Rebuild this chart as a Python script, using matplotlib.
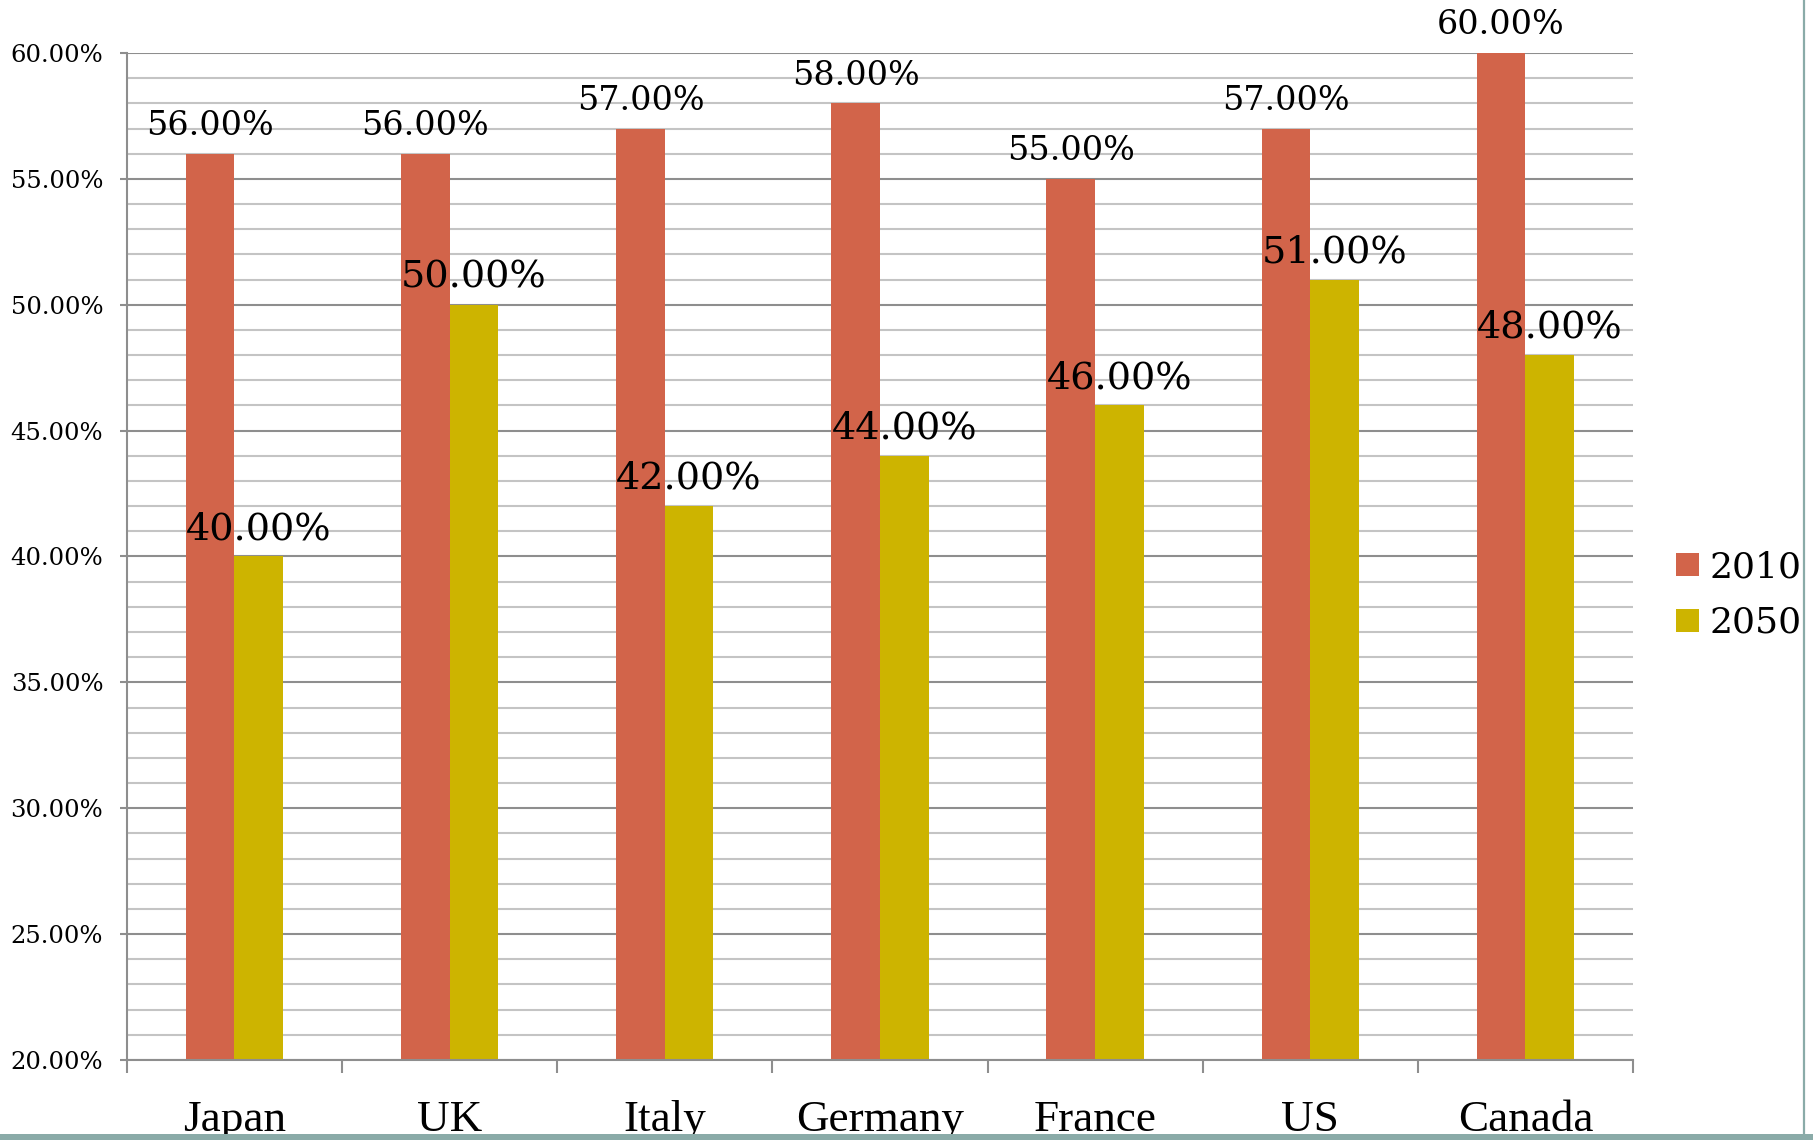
import matplotlib
matplotlib.use("Agg")
import matplotlib.pyplot as plt
from matplotlib.patches import Rectangle
from matplotlib.lines import Line2D
from matplotlib.ticker import MultipleLocator, FuncFormatter
import numpy as np

categories = ["Japan", "UK", "Italy", "Germany", "France", "US", "Canada"]
values_2010 = [56, 56, 57, 58, 55, 57, 60]
values_2050 = [40, 50, 42, 44, 46, 51, 48]
series_names = ["2010", "2050"]

RED = "#D2644A"
YELLOW = "#CDB400"
MAJOR_GRID = "#8E8E8E"
MINOR_GRID = "#C4C4C4"
TEAL = "#8AABA8"
NUM_FONT = "DejaVu Serif"
CAT_FONT = "Liberation Serif"

fig = plt.figure(figsize=(18.13, 11.40), dpi=100)
ax = fig.add_axes([0.0700, 0.0702, 0.8307, 0.8833])

x = np.arange(len(categories))
w = 0.226
b1 = ax.bar(x - w / 2, np.array(values_2010) - 20, w, bottom=20, color=RED,
            zorder=3, label=series_names[0])
b2 = ax.bar(x + w / 2, np.array(values_2050) - 20, w, bottom=20, color=YELLOW,
            zorder=3, label=series_names[1])

ax.set_xlim(-0.5, len(categories) - 0.5)
ax.set_ylim(20, 60)

# y axis
ax.yaxis.set_major_locator(MultipleLocator(5))
ax.yaxis.set_minor_locator(MultipleLocator(1))
ax.yaxis.set_major_formatter(FuncFormatter(lambda v, p: f"{v:.2f}%"))
ax.grid(which="major", axis="y", color=MAJOR_GRID, linewidth=1.5, zorder=1)
ax.grid(which="minor", axis="y", color=MINOR_GRID, linewidth=1.5, zorder=1)
ax.tick_params(axis="y", which="major", length=5, width=1.5, color=MAJOR_GRID,
               pad=12, labelsize=17.5)
ax.tick_params(axis="y", which="minor", length=0)
for lab in ax.get_yticklabels():
    lab.set_fontfamily(NUM_FONT)

# x axis: labels at centers, tick marks at boundaries
ax.set_xticks(x)
ax.set_xticklabels(categories, fontfamily=CAT_FONT, fontsize=32.5)
ax.set_xticks(np.arange(-0.5, len(categories)), minor=True)
ax.tick_params(axis="x", which="major", length=0, pad=29)
ax.tick_params(axis="x", which="minor", length=9, width=1.5, color=MAJOR_GRID)

for s in ["top", "right"]:
    ax.spines[s].set_visible(False)
for s in ["left", "bottom"]:
    ax.spines[s].set_color(MAJOR_GRID)
    ax.spines[s].set_linewidth(1.5)
    ax.spines[s].set_zorder(4)

# data labels
for xi, v in zip(x, values_2010):
    ax.annotate(f"{v:.2f}%", (xi - w / 2, v), xytext=(0, 13.5),
                textcoords="offset points", ha="center", va="baseline",
                fontfamily=NUM_FONT, fontsize=24, annotation_clip=False,
                zorder=5)
for xi, v in zip(x, values_2050):
    ax.annotate(f"{v:.2f}%", (xi + w / 2, v), xytext=(0, 12.5),
                textcoords="offset points", ha="center", va="baseline",
                fontfamily=NUM_FONT, fontsize=27.5, annotation_clip=False,
                zorder=5)

leg = ax.legend(loc="center left", bbox_to_anchor=(0.9245, 0.478),
                bbox_transform=fig.transFigure, frameon=False,
                prop={"family": NUM_FONT, "size": 26},
                handlelength=0.62, handleheight=0.62, handletextpad=0.3,
                labelspacing=0.6, borderpad=0, borderaxespad=0)

# slide frame decorations
fig.patches.append(Rectangle((0, 0), 1, 6 / 1140, transform=fig.transFigure,
                             facecolor=TEAL, edgecolor="none", zorder=10))
fig.lines.append(Line2D([1804 / 1813, 1804 / 1813], [0, 1],
                        transform=fig.transFigure, color=TEAL, linewidth=1.6,
                        zorder=10))

fig.savefig("out.png", dpi=100)
